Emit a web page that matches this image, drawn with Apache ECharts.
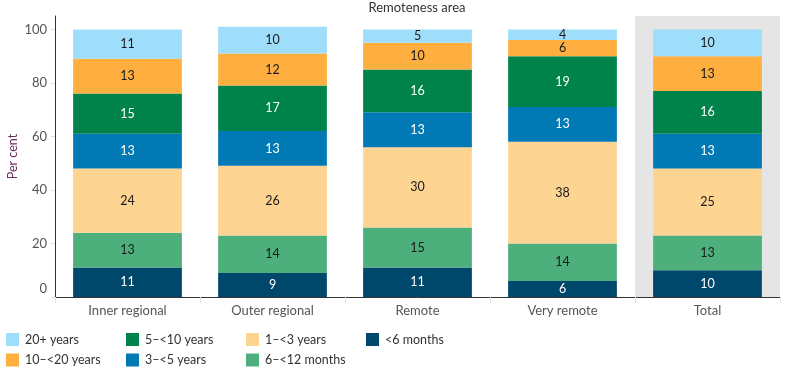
<!DOCTYPE html>
<html>
<head>
<meta charset="utf-8">
<script src="https://cdn.jsdelivr.net/npm/echarts@6/dist/echarts.min.js"></script>
<style>
html,body{margin:0;padding:0;background:#fff;}
#chart{width:786px;height:370px;}
</style>
</head>
<body>
<div id="chart"></div>
<script>
const categories = ['Inner regional', 'Outer regional', 'Remote', 'Very remote', 'Total'];
const yTicks = [0, 20, 40, 60, 80, 100];
const lt6Months   = [11, 9, 11, 6, 10];
const m6to12      = [13, 14, 15, 14, 13];
const y1to3       = [24, 26, 30, 38, 25];
const y3to5       = [13, 13, 13, 13, 13];
const y5to10      = [15, 17, 16, 19, 16];
const y10to20     = [13, 12, 10, 6, 13];
const y20plus     = [11, 10, 5, 4, 10];

const seriesDefs = [
  { name: '<6 months', data: lt6Months, color: '#00486b', text: '#ffffff' },
  { name: '6–<12 months', data: m6to12, color: '#4caf7c', text: '#1a1a1a' },
  { name: '1–<3 years', data: y1to3, color: '#fed492', text: '#1a1a1a' },
  { name: '3–<5 years', data: y3to5, color: '#0079b4', text: '#ffffff' },
  { name: '5–<10 years', data: y5to10, color: '#00834a', text: '#ffffff' },
  { name: '10–<20 years', data: y10to20, color: '#feaf3f', text: '#1a1a1a' },
  { name: '20+ years', data: y20plus, color: '#9fdefa', text: '#1a1a1a' }
];

const FONT = 'Lato';
const series = seriesDefs.map(s => ({
  name: s.name,
  type: 'bar',
  stack: 'all',
  barCategoryGap: '25%',
  data: s.data,
  itemStyle: { color: s.color },
  label: {
    show: true,
    position: 'inside',
    color: s.text,
    fontFamily: FONT,
    fontSize: 12.5
  },
  emphasis: { disabled: true }
}));

const legendCols = [
  { left: 6, items: ['20+ years', '10–<20 years'] },
  { left: 126, items: ['5–<10 years', '3–<5 years'] },
  { left: 246, items: ['1–<3 years', '6–<12 months'] },
  { left: 366, items: ['<6 months'] }
];
const legends = legendCols.map(c => ({
  data: c.items,
  orient: 'vertical',
  left: c.left,
  top: 333,
  itemWidth: 13,
  itemHeight: 13,
  itemGap: 7.5,
  icon: 'rect',
  selectedMode: false,
  textStyle: { fontFamily: FONT, fontSize: 12.5, color: '#333', padding: [0, 0, 0, 1] },
  padding: 0
}));

const chart = echarts.init(document.getElementById('chart'));
chart.setOption({
  animation: false,
  title: {
    text: 'Remoteness area',
    left: 417,
    textAlign: 'center',
    top: 0,
    padding: 0,
    textStyle: { fontFamily: FONT, fontSize: 13, fontWeight: 'normal', color: '#333', lineHeight: 15 }
  },
  legend: legends,
  grid: { left: 55, right: 6, top: 16, bottom: 73, containLabel: false, outerBoundsMode: 'none' },
  xAxis: {
    type: 'category',
    data: categories,
    axisLine: { lineStyle: { color: '#333', width: 1 } },
    axisTick: { show: true, length: 6, lineStyle: { color: '#e0e0e0' } },
    axisLabel: { fontFamily: FONT, fontSize: 13, color: '#555', margin: 7 },
    splitArea: {
      show: true,
      areaStyle: { color: ['rgba(0,0,0,0)', 'rgba(0,0,0,0)', 'rgba(0,0,0,0)', 'rgba(0,0,0,0)', '#e5e5e5'] }
    }
  },
  yAxis: {
    type: 'value',
    min: 0,
    max: 105,
    interval: 20,
    name: 'Per cent',
    nameLocation: 'middle',
    nameGap: 36,
    nameMoveOverlap: false,
    nameTextStyle: { fontFamily: FONT, fontSize: 12.5, color: '#6b2d5c' },
    axisLine: { show: true, lineStyle: { color: '#333', width: 1 } },
    axisTick: { show: true, length: 4, lineStyle: { color: '#e0e0e0' } },
    axisLabel: {
      fontFamily: FONT, fontSize: 13, color: '#555', margin: 8,
      showMaxLabel: false,
      formatter: v => (yTicks.indexOf(v) < 0 ? '' : (v === 0 ? '{z|0}' : String(v))),
      rich: {
        z: { fontFamily: FONT, fontSize: 13, color: '#555', padding: [0, 0, 16, 0] }
      }
    },
    splitLine: { show: false }
  },
  series: series
});
</script>
</body>
</html>
